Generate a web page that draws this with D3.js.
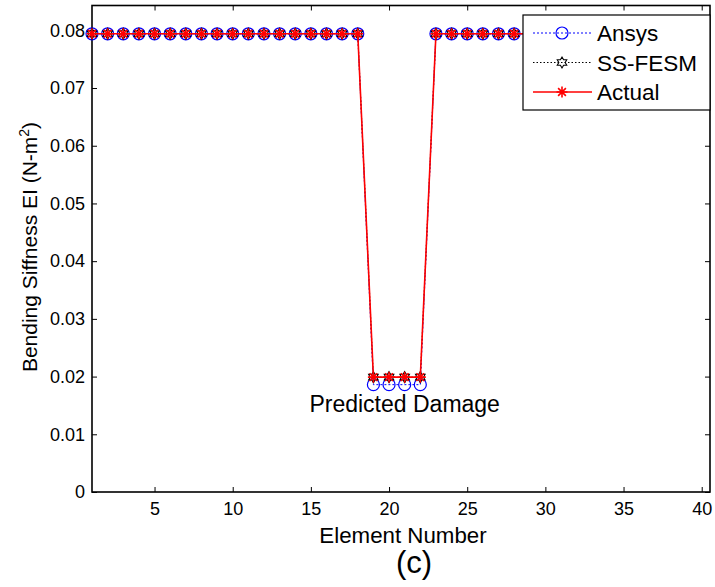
<!DOCTYPE html>
<html>
<head>
<meta charset="utf-8">
<script src="https://cdn.jsdelivr.net/npm/d3@7"></script>
<style>
  body { margin: 0; background: #fff; }
  svg { display: block; font-family: Arial, "Liberation Sans", sans-serif; }
</style>
</head>
<body>
<svg id="chart" width="715" height="587"></svg>
<script>
const elements = [1, 2, 3, 4, 5, 6, 7, 8, 9, 10, 11, 12, 13, 14, 15, 16, 17, 18, 19, 20,
  21, 22, 23, 24, 25, 26, 27, 28, 29, 30, 31, 32, 33, 34, 35, 36, 37, 38, 39, 40];

const ansys = [0.0794, 0.0794, 0.0794, 0.0794, 0.0794, 0.0794, 0.0794, 0.0794, 0.0794, 0.0794,
  0.0794, 0.0794, 0.0794, 0.0794, 0.0794, 0.0794, 0.0794, 0.0794, 0.0186, 0.0186,
  0.0186, 0.0186, 0.0794, 0.0794, 0.0794, 0.0794, 0.0794, 0.0794, 0.0794, 0.0794,
  0.0794, 0.0794, 0.0794, 0.0794, 0.0794, 0.0794, 0.0794, 0.0794, 0.0794, 0.0794];

const ssfesm = [0.0794, 0.0794, 0.0794, 0.0794, 0.0794, 0.0794, 0.0794, 0.0794, 0.0794, 0.0794,
  0.0794, 0.0794, 0.0794, 0.0794, 0.0794, 0.0794, 0.0794, 0.0794, 0.0199, 0.0199,
  0.0199, 0.0199, 0.0794, 0.0794, 0.0794, 0.0794, 0.0794, 0.0794, 0.0794, 0.0794,
  0.0794, 0.0794, 0.0794, 0.0794, 0.0794, 0.0794, 0.0794, 0.0794, 0.0794, 0.0794];

const actual = [0.0794, 0.0794, 0.0794, 0.0794, 0.0794, 0.0794, 0.0794, 0.0794, 0.0794, 0.0794,
  0.0794, 0.0794, 0.0794, 0.0794, 0.0794, 0.0794, 0.0794, 0.0794, 0.0199, 0.0199,
  0.0199, 0.0199, 0.0794, 0.0794, 0.0794, 0.0794, 0.0794, 0.0794, 0.0794, 0.0794,
  0.0794, 0.0794, 0.0794, 0.0794, 0.0794, 0.0794, 0.0794, 0.0794, 0.0794, 0.0794];

const xTicks = [5, 10, 15, 20, 25, 30, 35, 40];
const yTicks = [0, 0.01, 0.02, 0.03, 0.04, 0.05, 0.06, 0.07, 0.08];
const seriesNames = ["Ansys", "SS-FESM", "Actual"];

const box = { left: 92, right: 710, top: 5.5, bottom: 492 };

const svg = d3.select("#chart");

const x = d3.scaleLinear().domain([1, 40.53]).range([box.left, box.right]);
const y = d3.scaleLinear().domain([0, 0.0843]).range([box.bottom, box.top]);

// ticks inside the box, on all four sides
const tickLen = 5;
const axes = svg.append("g");
axes.append("g")
  .attr("transform", `translate(0,${box.bottom})`)
  .call(d3.axisBottom(x).tickValues(xTicks).tickSizeInner(-tickLen).tickSizeOuter(0).tickPadding(10).tickFormat(d3.format("d")));
axes.append("g")
  .attr("transform", `translate(0,${box.top})`)
  .call(d3.axisTop(x).tickValues(xTicks).tickSizeInner(-tickLen).tickSizeOuter(0).tickFormat(""));
axes.append("g")
  .attr("transform", `translate(${box.left},0)`)
  .call(d3.axisLeft(y).tickValues(yTicks).tickSizeInner(-tickLen).tickSizeOuter(0).tickPadding(7).tickFormat((d) => (d === 0 ? "0" : d3.format(".2f")(d))));
axes.append("g")
  .attr("transform", `translate(${box.right},0)`)
  .call(d3.axisRight(y).tickValues(yTicks).tickSizeInner(-tickLen).tickSizeOuter(0).tickFormat(""));

axes.selectAll(".domain").remove();
axes.selectAll(".tick line").attr("stroke", "#000").attr("stroke-width", 1);
axes.selectAll(".tick text").attr("font-size", 18).attr("fill", "#000")
  .attr("font-family", "Arial, 'Liberation Sans', sans-serif");

axes.append("rect")
  .attr("x", box.left).attr("y", box.top)
  .attr("width", box.right - box.left).attr("height", box.bottom - box.top)
  .attr("fill", "none").attr("stroke", "#000").attr("stroke-width", 1.6);

// markers
const hexagram = (r) => {
  const pts = [];
  for (let i = 0; i < 12; i++) {
    const a = -Math.PI / 2 + (i * Math.PI) / 6;
    const rr = i % 2 === 0 ? r : r * 0.58;
    pts.push([rr * Math.cos(a), rr * Math.sin(a)]);
  }
  return `M${pts.join("L")}Z`;
};
const asterisk = (r) => {
  let p = "";
  for (let i = 0; i < 4; i++) {
    const a = (i * Math.PI) / 4;
    p += `M${-r * Math.cos(a)},${-r * Math.sin(a)}L${r * Math.cos(a)},${r * Math.sin(a)}`;
  }
  return p;
};

const series = [
  { name: seriesNames[0], values: ansys, color: "#0000ff", dash: "2,2", width: 1, marker: "circle" },
  { name: seriesNames[1], values: ssfesm, color: "#000", dash: "1.5,2", width: 1, marker: "hexagram" },
  { name: seriesNames[2], values: actual, color: "#ff0000", dash: null, width: 1.6, marker: "asterisk" },
];

const line = d3.line().x((d) => x(d[0])).y((d) => y(d[1]));

const drawMarker = (g, kind, color) => {
  if (kind === "circle") {
    g.append("circle").attr("r", 6).attr("fill", "none").attr("stroke", color).attr("stroke-width", 1.2);
  } else if (kind === "hexagram") {
    g.append("path").attr("d", hexagram(5.5)).attr("fill", "none").attr("stroke", color).attr("stroke-width", 1.1);
  } else {
    g.append("path").attr("d", asterisk(5.5)).attr("fill", "none").attr("stroke", color).attr("stroke-width", 1.6);
  }
};

const plot = svg.append("g");
series.forEach((s) => {
  const pts = elements.map((e, i) => [e, s.values[i]]);
  plot.append("path")
    .attr("d", line(pts))
    .attr("fill", "none")
    .attr("stroke", s.color)
    .attr("stroke-width", s.width)
    .attr("stroke-dasharray", s.dash);
  pts.forEach((p) => {
    const g = plot.append("g").attr("transform", `translate(${x(p[0])},${y(p[1])})`);
    drawMarker(g, s.marker, s.color);
  });
});

// annotation
svg.append("text")
  .attr("x", x(21)).attr("y", y(0.0139))
  .attr("text-anchor", "middle")
  .attr("font-size", 23)
  .text("Predicted Damage");

// legend
const legend = svg.append("g");
legend.append("rect")
  .attr("x", 523).attr("y", 15).attr("width", 187).attr("height", 95)
  .attr("fill", "#fff").attr("stroke", "#000").attr("stroke-width", 1.2);
series.forEach((s, i) => {
  const ly = 33 + i * 29.5;
  legend.append("line")
    .attr("x1", 533).attr("x2", 592).attr("y1", ly).attr("y2", ly)
    .attr("stroke", s.color).attr("stroke-width", s.width)
    .attr("stroke-dasharray", s.dash);
  drawMarker(legend.append("g").attr("transform", `translate(562,${ly})`), s.marker, s.color);
  legend.append("text")
    .attr("x", 597).attr("y", ly + 8)
    .attr("font-size", 22.5)
    .text(s.name);
});

// axis labels
svg.append("text")
  .attr("x", 403).attr("y", 543)
  .attr("text-anchor", "middle")
  .attr("font-size", 22.3)
  .text("Element Number");

svg.append("text")
  .attr("x", 414).attr("y", 573)
  .attr("text-anchor", "middle")
  .attr("font-size", 31)
  .text("(c)");

const yl = svg.append("text")
  .attr("transform", "translate(37,247) rotate(-90)")
  .attr("text-anchor", "middle")
  .attr("font-size", 21);
yl.append("tspan").text("Bending Siffness EI (N-m");
yl.append("tspan").attr("font-size", 14).attr("dy", -8).text("2");
yl.append("tspan").attr("dy", 8).text(")");
</script>
</body>
</html>
